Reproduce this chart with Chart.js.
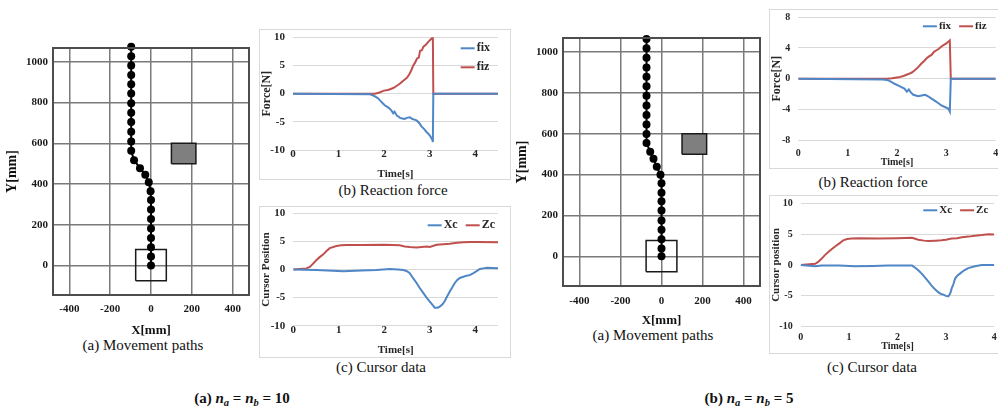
<!DOCTYPE html>
<html>
<head>
<meta charset="utf-8">
<script src="https://cdn.jsdelivr.net/npm/chart.js@4.4.1/dist/chart.umd.min.js"></script>
<style>
  body { margin: 0; background: #fff; width: 998px; height: 410px; position: relative; overflow: hidden; }
  .box { position: absolute; }
  .frame { position: absolute; border: 1px solid #d9d9d9; box-sizing: border-box; }
  .cap { position: absolute; transform: translate(-50%, -50%); white-space: nowrap; line-height: 1;
         font-family: "Liberation Serif", "Times New Roman", serif; font-size: 15px; color: #111; }
  .cap.b { font-weight: bold; }
  sub { font-size: 70%; vertical-align: -3px; }
</style>
</head>
<body>
<div class="frame" style="left:259px;top:29px;width:252px;height:151px"></div>
<div class="frame" style="left:259px;top:206px;width:252px;height:152px"></div>
<div class="frame" style="left:769px;top:9px;width:240px;height:160px"></div>
<div class="frame" style="left:769px;top:195px;width:240px;height:159px"></div>

<div class="cap" style="left:143px;top:345px">(a) Movement paths</div>
<div class="cap" style="left:653px;top:335px">(a) Movement paths</div>
<div class="cap" style="left:393px;top:190px">(b) Reaction force</div>
<div class="cap" style="left:873px;top:182px">(b) Reaction force</div>
<div class="cap" style="left:381px;top:367px">(c) Cursor data</div>
<div class="cap" style="left:872px;top:367px">(c) Cursor data</div>
<div class="cap b" style="left:242px;top:400px">(a) <i>n<sub>a</sub></i> = <i>n<sub>b</sub></i> = 10</div>
<div class="cap b" style="left:749px;top:400px">(b) <i>n<sub>a</sub></i> = <i>n<sub>b</sub></i> = 5</div>

<script>
const FONT = '"Liberation Serif", "Times New Roman", serif'
Chart.defaults.font.family = FONT
Chart.defaults.font.weight = 'bold'
Chart.defaults.color = '#262626'

const BLUE = '#4f86c6'
const RED = '#c0504d'

// ---- movement paths (mm) ----
const pathTicksX = [-400, -200, 0, 200, 400]
const pathTicksY = [0, 200, 400, 600, 800, 1000]
const pathX10 = [0, 0, 0, 0, 0, 0, 0, 0, -2, -11, -28, -54, -83, -97, -97, -97, -97, -97, -97, -97, -97, -97, -97, -97, -97]
const pathY10 = [0, 44, 89, 135, 182, 228, 275, 321, 364, 409, 445, 478, 517, 563, 609, 657, 704, 750, 797, 844, 890, 936, 982, 1028, 1074]
const pathX5 = [0, 0, 0, 0, 0, 0, 0, 0, 0, -5, -23, -39, -55, -73, -73, -73, -73, -73, -73, -73, -73, -73, -73, -73, -73]
const pathY5 = [0, 39, 84, 130, 175, 224, 269, 311, 357, 399, 438, 477, 512, 554, 598, 645, 691, 738, 785, 832, 879, 924, 971, 1018, 1063]
const startBoxX = [-75, 75, 75, -75, -75]
const startBoxY = [-75, -75, 78, 78, -75]
const obstacleX = [100, 220, 220, 100, 100]
const obstacleY = [500, 500, 600, 600, 500]

// ---- reaction force, n = 10 ----
const fixT10 = [0, 1.69, 1.75, 1.8, 1.86, 1.91, 1.97, 2.02, 2.08, 2.13, 2.17, 2.2, 2.23, 2.28, 2.32, 2.35, 2.4, 2.45, 2.5, 2.57, 2.62, 2.67, 2.72, 2.77, 2.82, 2.88, 2.93, 2.97, 3.0, 3.03, 3.06, 3.07, 3.08, 4.5]
const fixV10 = [0, -0.1, -0.3, -0.5, -0.8, -1.2, -1.7, -2.1, -2.4, -2.7, -3.1, -3.5, -3.2, -3.9, -4.1, -4.3, -4.4, -4.5, -4.3, -4.2, -4.5, -4.6, -4.8, -5.2, -5.8, -6.3, -6.8, -7.1, -7.4, -7.8, -8.2, -8.6, 0, 0]
const fizT10 = [0, 1.8, 1.9, 1.98, 2.1, 2.2, 2.28, 2.35, 2.42, 2.5, 2.55, 2.6, 2.64, 2.68, 2.72, 2.76, 2.79, 2.83, 2.86, 2.92, 2.97, 3.02, 3.07, 3.08, 4.5]
const fizV10 = [0, 0, 0.2, 0.5, 0.7, 1.0, 1.4, 1.8, 2.3, 2.8, 3.4, 4.2, 5.0, 5.5, 6.2, 6.4, 7.6, 7.7, 8.3, 8.7, 9.2, 9.6, 10, 0, 0]

// ---- cursor data, n = 10 ----
const xcT10 = [0, 0.5, 1.1, 1.5, 1.83, 2.12, 2.3, 2.42, 2.5, 2.56, 2.63, 2.71, 2.78, 2.86, 2.93, 3.0, 3.06, 3.11, 3.17, 3.22, 3.28, 3.33, 3.38, 3.44, 3.5, 3.55, 3.6, 3.66, 3.74, 3.81, 3.88, 3.96, 4.03, 4.1, 4.18, 4.25, 4.5]
const xcV10 = [0, -0.1, -0.3, -0.2, -0.1, 0.1, 0, -0.1, -0.3, -0.65, -1.5, -2.4, -3.3, -4.2, -5.0, -5.7, -6.3, -6.8, -6.8, -6.6, -6.2, -5.6, -4.8, -3.9, -3.1, -2.4, -1.9, -1.5, -1.3, -1.1, -1.0, -0.65, -0.3, 0.1, 0.2, 0.3, 0.2]
const zcT10 = [0, 0.29, 0.37, 0.44, 0.51, 0.58, 0.66, 0.73, 0.8, 0.88, 0.95, 1.05, 1.17, 1.5, 2.0, 2.34, 2.45, 2.56, 2.71, 2.82, 2.93, 3.0, 3.15, 3.3, 3.44, 3.6, 3.74, 3.9, 4.03, 4.5]
const zcV10 = [0, 0.2, 0.5, 1.1, 1.7, 2.2, 2.7, 3.3, 3.8, 4.0, 4.2, 4.3, 4.35, 4.35, 4.4, 4.3, 4.1, 4.0, 3.9, 4.0, 4.1, 4.0, 4.4, 4.5, 4.6, 4.75, 4.85, 4.9, 4.9, 4.85]

// ---- reaction force, n = 5 ----
const fixT5 = [0, 1.72, 1.82, 1.9, 1.96, 2.03, 2.09, 2.15, 2.2, 2.24, 2.28, 2.33, 2.38, 2.43, 2.5, 2.57, 2.63, 2.7, 2.77, 2.84, 2.9, 2.97, 3.04, 3.07, 3.09, 4]
const fixV5 = [0, -0.1, -0.2, -0.5, -0.7, -0.9, -1.1, -1.3, -1.7, -1.4, -1.8, -2.1, -2.2, -2.3, -2.2, -2.1, -2.3, -2.6, -2.9, -3.2, -3.5, -3.7, -3.9, -4.3, 0, 0]
const fizT5 = [0, 1.8, 1.9, 2.03, 2.13, 2.23, 2.3, 2.36, 2.43, 2.5, 2.55, 2.6, 2.65, 2.7, 2.75, 2.8, 2.85, 2.9, 2.95, 3.0, 3.07, 3.09, 4]
const fizV5 = [0, 0, 0.05, 0.17, 0.35, 0.6, 0.8, 1.1, 1.5, 2.0, 2.3, 2.65, 2.9, 3.1, 3.5, 3.7, 3.9, 4.2, 4.4, 4.6, 5.0, 0, 0]

// ---- cursor data, n = 5 ----
const xcT5 = [0, 0.3, 0.43, 0.8, 1.12, 1.5, 1.8, 2.3, 2.36, 2.43, 2.5, 2.57, 2.64, 2.7, 2.77, 2.84, 2.9, 2.95, 3.0, 3.05, 3.09, 3.12, 3.16, 3.19, 3.24, 3.29, 3.37, 3.46, 3.6, 3.74, 4]
const xcV5 = [0, -0.2, -0.1, -0.1, -0.2, -0.15, -0.1, -0.1, -0.4, -0.85, -1.4, -2.05, -2.7, -3.3, -3.9, -4.4, -4.7, -4.8, -5.0, -5.1, -4.6, -3.8, -3.0, -2.2, -1.7, -1.4, -0.9, -0.5, -0.2, 0, 0]
const zcT5 = [0, 0.3, 0.36, 0.43, 0.5, 0.6, 0.71, 0.8, 0.88, 0.96, 1.05, 1.2, 1.6, 2.0, 2.3, 2.43, 2.55, 2.64, 2.78, 2.91, 3.0, 3.12, 3.23, 3.33, 3.47, 3.6, 3.74, 3.88, 4]
const zcV5 = [0, 0.2, 0.5, 1.0, 1.6, 2.3, 3.0, 3.5, 4.0, 4.2, 4.3, 4.35, 4.3, 4.35, 4.4, 4.1, 3.95, 3.9, 3.95, 4.0, 4.1, 4.3, 4.35, 4.5, 4.6, 4.75, 4.85, 5.0, 4.95]

function pts(xs, ys) {
    return xs.map((x, i) => ({ x: x, y: ys[i] }))
}

// legend drawn inside the plot area + optional plot frame
const insidePlot = {
    id: 'insidePlot',
    afterDraw(chart, args, opts) {
        const { ctx, chartArea } = chart
        ctx.save()
        if (opts.frame) {
            ctx.strokeStyle = '#4d4d4d'
            ctx.lineWidth = 2
            ctx.strokeRect(chartArea.left, chartArea.top, chartArea.width, chartArea.height)
        }
        if (opts.legend) {
            let lg = opts.legend
            ctx.font = 'bold ' + lg.size + 'px ' + FONT
            ctx.textBaseline = 'middle'
            ctx.fillStyle = '#262626'
            let items = chart.data.datasets.filter(d => d.label).map(d => ({ label: d.label, color: d.borderColor, w: ctx.measureText(d.label).width }))
            let line = 14, gap = 2, space = 8
            let draw = (it, x, y) => {
                ctx.strokeStyle = it.color
                ctx.lineWidth = 2
                ctx.beginPath()
                ctx.moveTo(x, y)
                ctx.lineTo(x + line, y)
                ctx.stroke()
                ctx.fillText(it.label, x + line + gap, y)
            }
            if (lg.row) {
                let total = items.reduce((s, it) => s + line + gap + it.w, 0) + space * (items.length - 1)
                let x = chartArea.right - lg.right - total
                let y = chartArea.top + lg.top
                for (let it of items) {
                    draw(it, x, y)
                    x += line + gap + it.w + space
                }
            } else {
                let maxW = Math.max(...items.map(it => it.w))
                let x = chartArea.right - lg.right - maxW - gap - line
                items.forEach((it, i) => draw(it, x, chartArea.top + lg.top + i * lg.step))
            }
        }
        ctx.restore()
    }
}
Chart.register(insidePlot)

// box: page rect of the canvas, plot: page rect of the plot area
function mount(box, plot, config) {
    let div = document.createElement('div')
    div.className = 'box'
    div.style.left = box.x + 'px'
    div.style.top = box.y + 'px'
    let canvas = document.createElement('canvas')
    canvas.width = box.w
    canvas.height = box.h
    canvas.style.width = box.w + 'px'
    canvas.style.height = box.h + 'px'
    div.appendChild(canvas)
    document.body.appendChild(div)

    let o = config.options
    o.responsive = false
    o.animation = false
    o.layout = { padding: { left: 0, top: plot.t - box.y, right: box.x + box.w - plot.r, bottom: 0 } }
    o.scales.x.afterFit = s => { s.height = box.y + box.h - plot.b }
    o.scales.y.afterFit = s => { s.width = plot.l - box.x }
    o.plugins = Object.assign({ legend: { display: false }, tooltip: { enabled: false } }, o.plugins || {})
    return new Chart(canvas, config)
}

function pathChart(box, plot, xs, ys, tickPad, titlePad) {
    return mount(box, plot, {
        type: 'scatter',
        data: {
            datasets: [
                { data: pts(xs, ys), showLine: true, borderColor: '#000', borderWidth: 2, pointRadius: 4,
                  pointBackgroundColor: '#000', pointBorderWidth: 0, clip: false },
                { data: pts(startBoxX, startBoxY), showLine: true, borderColor: '#1a1a1a', borderWidth: 1.5, pointRadius: 0 },
                { data: pts(obstacleX, obstacleY), showLine: true, borderColor: '#1a1a1a', borderWidth: 1.5, pointRadius: 0,
                  fill: 'shape', backgroundColor: '#7f7f7f' }
            ]
        },
        options: {
            scales: {
                x: {
                    min: -480, max: 480,
                    afterBuildTicks: s => { s.ticks = pathTicksX.map(v => ({ value: v })) },
                    grid: { color: '#7a7a7a', lineWidth: 1.5, drawTicks: false },
                    border: { color: '#4d4d4d', width: 2 },
                    ticks: { padding: tickPad, maxRotation: 0, autoSkip: false, color: '#1a1a1a', font: { size: 11 }, callback: v => String(v) },
                    title: { display: true, text: 'X[mm]', color: '#111', font: { size: 13 }, padding: { top: 0, bottom: titlePad } }
                },
                y: {
                    min: -145, max: 1068,
                    afterBuildTicks: s => { s.ticks = pathTicksY.map(v => ({ value: v })) },
                    grid: { color: '#7a7a7a', lineWidth: 1.5, drawTicks: false },
                    border: { color: '#4d4d4d', width: 2 },
                    ticks: { padding: 5, autoSkip: false, color: '#1a1a1a', font: { size: 11 }, callback: v => String(v) },
                    title: { display: true, text: 'Y[mm]', color: '#111', font: { size: 14 }, padding: { top: 4, bottom: 0 } }
                }
            },
            plugins: { insidePlot: { frame: true } }
        }
    })
}

function timeChart(box, plot, s, yTitle, yLim, yStep, xMax, series, legend) {
    return mount(box, plot, {
        type: 'scatter',
        data: {
            datasets: series.map(d => ({
                label: d.label, data: pts(d.t, d.v), showLine: true, borderColor: d.color,
                borderWidth: 2, pointRadius: 0, tension: 0
            }))
        },
        options: {
            scales: {
                x: {
                    min: 0, max: xMax,
                    grid: { display: false, drawTicks: false },
                    border: { display: false },
                    ticks: { stepSize: 1, includeBounds: false, padding: s.xPad, maxRotation: 0, autoSkip: false, font: { size: s.tick } },
                    title: { display: true, text: 'Time[s]', font: { size: s.xTitle }, padding: { top: 0, bottom: s.tPad } }
                },
                y: {
                    min: -yLim, max: yLim,
                    grid: { color: '#d9d9d9', drawTicks: false },
                    border: { display: false },
                    ticks: { stepSize: yStep, padding: 8, font: { size: s.tick } },
                    title: { display: true, text: yTitle, font: { size: s.yTitle }, padding: { top: 0, bottom: 0 } }
                }
            },
            plugins: { insidePlot: { legend: legend } }
        }
    })
}

pathChart({ x: 0, y: 32, w: 262, h: 308 }, { l: 53, t: 48, r: 249, b: 295 }, pathX10, pathY10, 8, 2)
pathChart({ x: 510, y: 22, w: 262, h: 309 }, { l: 563, t: 38, r: 760, b: 286 }, pathX5, pathY5, 9, 3)

timeChart({ x: 260, y: 21, w: 250, h: 158 }, { l: 293, t: 37.3, r: 498, b: 150 },
    { tick: 11, xTitle: 11, yTitle: 12, xPad: -2, tPad: -2 }, 'Force[N]', 10, 5, 4.5,
    [{ label: 'fix', t: fixT10, v: fixV10, color: BLUE }, { label: 'fiz', t: fizT10, v: fizV10, color: RED }],
    { row: false, size: 12, right: 8, top: 11, step: 19 })

timeChart({ x: 260, y: 197, w: 250, h: 160 }, { l: 293.3, t: 213.3, r: 498, b: 325.7 },
    { tick: 11, xTitle: 11, yTitle: 11, xPad: -2, tPad: 0 }, 'Cursor Position', 10, 5, 4.5,
    [{ label: 'Xc', t: xcT10, v: xcV10, color: BLUE }, { label: 'Zc', t: zcT10, v: zcV10, color: RED }],
    { row: true, size: 12, right: 3, top: 12 })

timeChart({ x: 770, y: 1, w: 240, h: 167 }, { l: 798.3, t: 17.3, r: 995.7, b: 140 },
    { tick: 10, xTitle: 10, yTitle: 12, xPad: 7, tPad: 0 }, 'Force[N]', 8, 4, 4,
    [{ label: 'fix', t: fixT5, v: fixV5, color: BLUE }, { label: 'fiz', t: fizT5, v: fizV5, color: RED }],
    { row: true, size: 11, right: 9, top: 9 })

timeChart({ x: 770, y: 187, w: 240, h: 165 }, { l: 800.7, t: 203.3, r: 994.3, b: 326.7 },
    { tick: 10, xTitle: 10, yTitle: 11, xPad: 5, tPad: 0 }, 'Cursor position', 10, 5, 4,
    [{ label: 'Xc', t: xcT5, v: xcV5, color: BLUE }, { label: 'Zc', t: zcT5, v: zcV5, color: RED }],
    { row: true, size: 11, right: 6, top: 7 })
</script>
</body>
</html>
